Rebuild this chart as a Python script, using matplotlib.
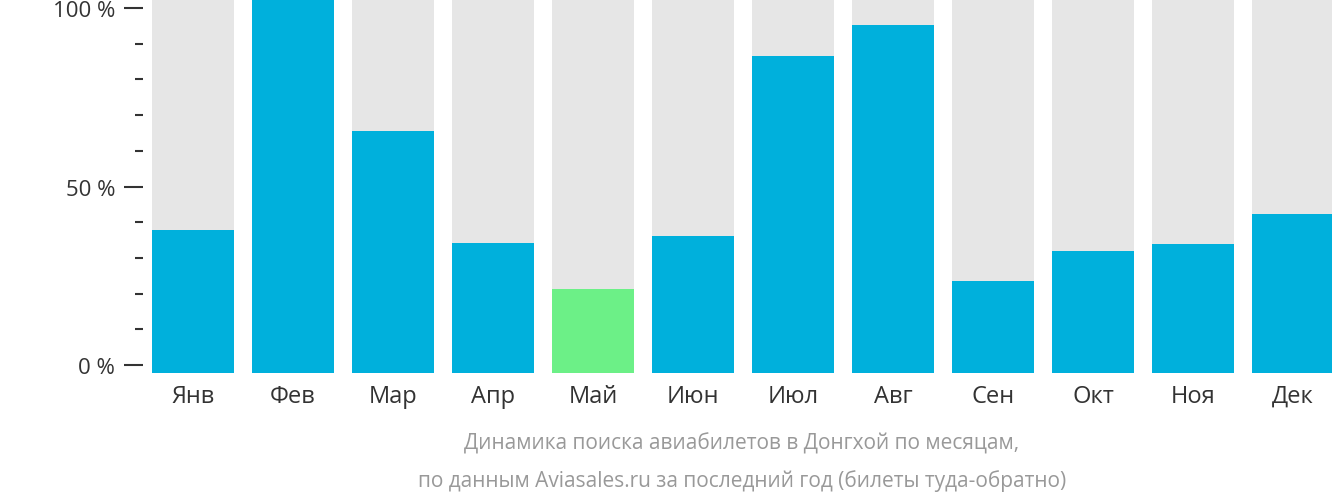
import matplotlib
matplotlib.use("Agg")
import matplotlib.pyplot as plt
from matplotlib.ticker import MultipleLocator

months = ["Янв","Фев","Мар","Апр","Май","Июн","Июл","Авг","Сен","Окт","Ноя","Дек"]
values = [37.8, 102.5, 65.5, 34.2, 21.3, 36.1, 86.6, 95.2, 23.5, 31.9, 33.9, 42.3]
highlight = 4
ytick_vals = [0, 50, 100]
ytick_labels = ["0 %", "50 %", "100 %"]

W, H = 1332, 502
fig = plt.figure(figsize=(W/100, H/100), dpi=100)
ymin, ymax = -2.2, 102.5
ax = fig.add_axes([143/W, 1-374/H, 1200/W, 374/H])
plt.rcParams["font.family"] = "Open Sans"
x = range(len(months))
ax.bar(x, [ymax-ymin]*len(months), bottom=ymin, width=0.82, color="#e6e6e6")
cols = ["#6cf087" if i == highlight else "#00b0dc" for i in x]
ax.bar(x, [v-ymin for v in values], bottom=ymin, width=0.82, color=cols)
ax.set_xlim(-0.5, 11.5)
ax.set_ylim(ymin, ymax)
for s in ax.spines.values():
    s.set_visible(False)
ax.set_yticks(ytick_vals)
ax.set_yticklabels(ytick_labels, fontsize=16, color="#333333", fontname="Open Sans")
ax.yaxis.set_minor_locator(MultipleLocator(10))
ax.tick_params(axis="y", which="major", length=14, width=1.5, color="#333333", pad=6)
ax.tick_params(axis="y", which="minor", length=6, width=1.5, color="#333333")
ax.set_xticks(list(x))
ax.set_xticklabels(months, fontsize=17, color="#333333", fontname="Open Sans")
ax.tick_params(axis="x", length=0, pad=8)
fig.text(742/W, 1-444/H, "Динамика поиска авиабилетов в Донгхой по месяцам,", ha="center", va="center",
         fontsize=15, color="#999999", fontname="Open Sans")
fig.text(742/W, 1-481/H, "по данным Aviasales.ru за последний год (билеты туда-обратно)", ha="center", va="center",
         fontsize=15, color="#999999", fontname="Open Sans")
fig.savefig("out.png", dpi=100)
